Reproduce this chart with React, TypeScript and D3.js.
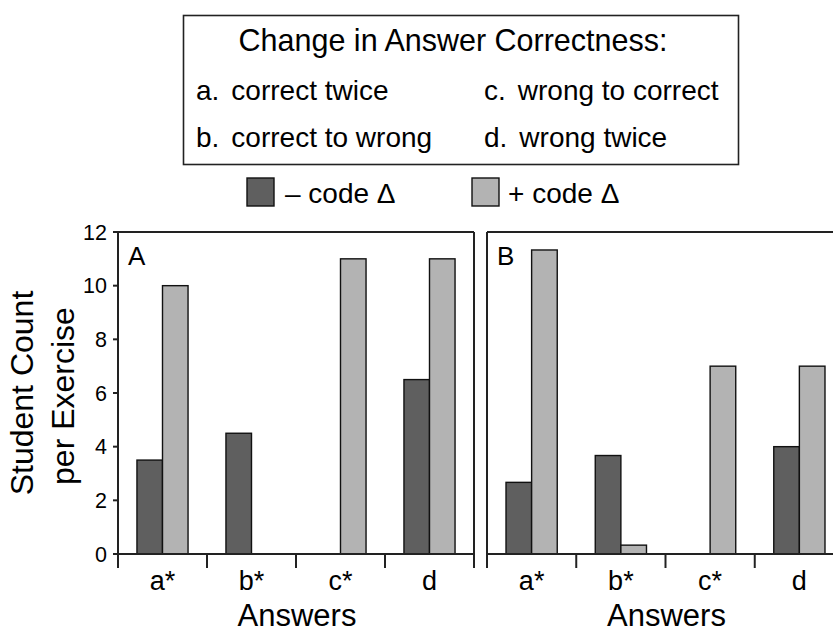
import React from "react";
import * as d3 from "d3";

const categories = ["a*", "b*", "c*", "d"];
const panelAMinus = [3.5, 4.5, 0, 6.5];
const panelAPlus = [10, 0, 11, 11];
const panelBMinus = [2.67, 3.67, 0, 4];
const panelBPlus = [11.33, 0.33, 7, 7];
const yTicks = [0, 2, 4, 6, 8, 10, 12];
const seriesKeys = ["minus", "plus"];
const seriesLabels = ["– code Δ", "+ code Δ"];
const panelNames = ["A", "B"];
const legendTitle = "Change in Answer Correctness:";
const legendItems = [
  [["a.", "correct twice"], ["c.", "wrong to correct"]],
  [["b.", "correct to wrong"], ["d.", "wrong twice"]],
];

const FONT = "'Liberation Sans', Arial, Helvetica, sans-serif";
const DARK = "#5f5f5f";
const LIGHT = "#b3b3b3";
const FRAME = "#222";

const W = 833;
const H = 633;
const yTop = 232;
const yBottom = 554;
const tickLen = 14;

const y = d3.scaleLinear().domain([0, 12]).range([yBottom, yTop]);
const colorScale = d3.scaleOrdinal<string, string>().domain(seriesKeys).range([DARK, LIGHT]);

function Panel({ x0, x1, name, minus, plus, showYAxis }: any) {
  const x = d3.scaleBand().domain(categories).range([x0, x1]).padding(0);
  const bw = x.bandwidth();
  const half = bw * 0.287;
  const values = [minus, plus];
  const boundaries = [x0, ...categories.map((c) => (x(c) as number) + bw)];
  return (
    <g>
      {categories.map((c, i) => {
        const center = (x(c) as number) + bw / 2;
        const sub = d3.scaleBand().domain(seriesKeys).range([center - half, center + half]).padding(0);
        return seriesKeys.map((k, j) => {
          const v = values[j][i];
          if (!v) return null;
          return (
            <rect
              key={c + k}
              x={sub(k)}
              y={y(v)}
              width={sub.bandwidth()}
              height={y(0) - y(v)}
              fill={colorScale(k)}
              stroke="#111"
              strokeWidth={1.4}
            />
          );
        });
      })}
      <line x1={x0} x2={x1} y1={yTop} y2={yTop} stroke={FRAME} strokeWidth={2} />
      <line x1={x0} x2={x1} y1={yBottom} y2={yBottom} stroke={FRAME} strokeWidth={2} />
      <line x1={x0} x2={x0} y1={yTop} y2={yBottom + tickLen} stroke={FRAME} strokeWidth={2} />
      <line x1={x1} x2={x1} y1={yTop} y2={yBottom + tickLen} stroke={FRAME} strokeWidth={2} />
      {boundaries.slice(1, -1).map((b, i) => (
        <line key={i} x1={b} x2={b} y1={yBottom} y2={yBottom + tickLen} stroke={FRAME} strokeWidth={2} />
      ))}
      {categories.map((c) => (
        <text
          key={c}
          x={(x(c) as number) + bw / 2}
          y={590}
          textAnchor="middle"
          fontSize={27}
          fontFamily={FONT}
        >
          {c}
        </text>
      ))}
      <text x={(x0 + x1) / 2 + 1} y={626} textAnchor="middle" fontSize={31} fontFamily={FONT}>
        Answers
      </text>
      <text x={x0 + 10} y={265} fontSize={26} fontFamily={FONT}>
        {name}
      </text>
      {showYAxis &&
        yTicks.map((t) => (
          <g key={t}>
            <line x1={x0 - 5} x2={x0} y1={y(t)} y2={y(t)} stroke={FRAME} strokeWidth={2} />
            <text
              x={x0 - 11}
              y={y(t)}
              dy="0.36em"
              textAnchor="end"
              fontSize={21.5}
              fontFamily={FONT}
            >
              {t}
            </text>
          </g>
        ))}
    </g>
  );
}

export default function App() {
  const legendSquares = [247, 472];
  const legendTexts = [285, 508];
  return (
    <svg
      width={W}
      height={H}
      style={{ position: "absolute", left: 0, top: 0, background: "#fff" }}
    >
      <rect x={0} y={0} width={W} height={H} fill="#fff" />
      <rect x={183.5} y={15.5} width={555} height={149} fill="none" stroke={FRAME} strokeWidth={1.6} />
      <text x={453} y={50.5} textAnchor="middle" fontSize={30.5} fontFamily={FONT}>
        {legendTitle}
      </text>
      {legendItems.map((row, r) =>
        row.map((t, c) => (
          <text key={t[1]} x={c === 0 ? 196 : 484} y={100 + r * 47} fontSize={28} fontFamily={FONT}>
            <tspan>{t[0]}</tspan>
            <tspan dx={12}>{t[1]}</tspan>
          </text>
        ))
      )}
      {seriesKeys.map((k, i) => (
        <g key={k}>
          <rect
            x={legendSquares[i]}
            y={178}
            width={27}
            height={28}
            fill={colorScale(k)}
            stroke="#111"
            strokeWidth={1.4}
          />
          <text x={legendTexts[i]} y={203} fontSize={28} fontFamily={FONT}>
            {seriesLabels[i]}
          </text>
        </g>
      ))}
      <text
        transform={`translate(33,393) rotate(-90)`}
        textAnchor="middle"
        fontSize={32}
        fontFamily={FONT}
      >
        Student Count
      </text>
      <text
        transform={`translate(74,396) rotate(-90)`}
        textAnchor="middle"
        fontSize={32}
        fontFamily={FONT}
      >
        per Exercise
      </text>
      <Panel x0={118} x1={474} name={panelNames[0]} minus={panelAMinus} plus={panelAPlus} showYAxis={true} />
      <Panel x0={487} x1={844} name={panelNames[1]} minus={panelBMinus} plus={panelBPlus} showYAxis={false} />
    </svg>
  );
}
